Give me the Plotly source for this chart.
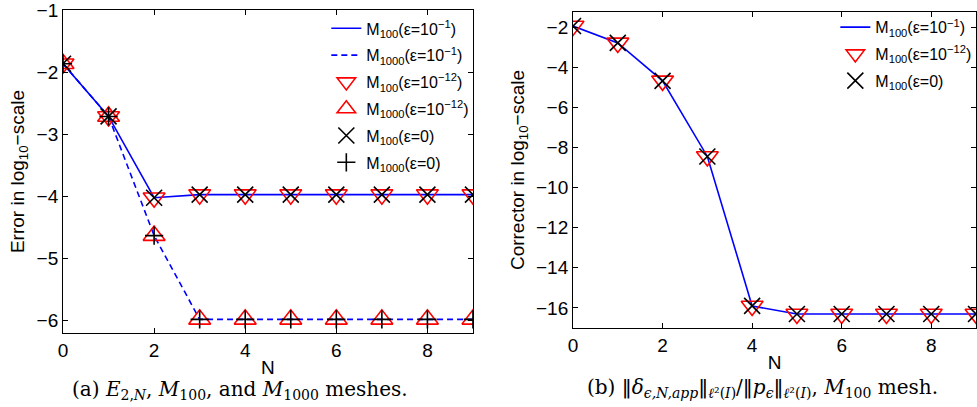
import plotly.graph_objects as go

# ---- data ----
N = [0, 1, 2, 3, 4, 5, 6, 7, 8, 9]
err_m100 = [-1.86, -2.71, -4.02, -3.97, -3.97, -3.97, -3.97, -3.97, -3.97, -3.97]
err_m1000 = [-1.86, -2.71, -4.63, -5.98, -5.98, -5.98, -5.98, -5.98, -5.98, -5.98]
cor_m100 = [-1.95, -2.79, -4.68, -8.45, -15.9, -16.3, -16.3, -16.3, -16.3, -16.3]

left_yticks = [-6, -5, -4, -3, -2, -1]
right_yticks = [-16, -14, -12, -10, -8, -6, -4, -2]
xticks = [0, 2, 4, 6, 8]

BLUE = "rgb(0,0,255)"
RED = "rgb(255,0,0)"
BLACK = "black"
LFONT = dict(family="Liberation Sans", size=16, color="black")

fig = go.Figure()

def add(x, y, name, xa, ya, legend, **kw):
    fig.add_trace(go.Scatter(x=x, y=y, name=name, xaxis=xa, yaxis=ya,
                             legend=legend, legendgroup=name + xa, **kw))

lab100_1 = "M<sub>100</sub>(ε=10<sup>−1</sup>)"
lab1000_1 = "M<sub>1000</sub>(ε=10<sup>−1</sup>)"
lab100_12 = "M<sub>100</sub>(ε=10<sup>−12</sup>)"
lab1000_12 = "M<sub>1000</sub>(ε=10<sup>−12</sup>)"
lab100_0 = "M<sub>100</sub>(ε=0)"
lab1000_0 = "M<sub>1000</sub>(ε=0)"

TRI = dict(size=19, color=RED, line=dict(width=1.6, color=RED))
XM = dict(symbol="x-thin", size=16, color=BLACK, line=dict(width=1.6, color=BLACK))
PM = dict(symbol="cross-thin", size=13, color=BLACK, line=dict(width=1.6, color=BLACK))

# left panel
add(N, err_m100, lab100_1, "x", "y", "legend", mode="lines",
    line=dict(color=BLUE, width=1.6))
add(N, err_m1000, lab1000_1, "x", "y", "legend", mode="lines",
    line=dict(color=BLUE, width=1.6, dash="6px,4px"))
add(N, err_m100, lab100_12, "x", "y", "legend", mode="markers",
    marker=dict(symbol="triangle-down-open", **TRI))
add(N, err_m1000, lab1000_12, "x", "y", "legend", mode="markers",
    marker=dict(symbol="triangle-up-open", **TRI))
add(N, err_m100, lab100_0, "x", "y", "legend", mode="markers", marker=XM)
add(N, err_m1000, lab1000_0, "x", "y", "legend", mode="markers", marker=PM)

# right panel
add(N, cor_m100, lab100_1, "x2", "y2", "legend2", mode="lines",
    line=dict(color=BLUE, width=1.6))
add(N, cor_m100, lab100_12, "x2", "y2", "legend2", mode="markers",
    marker=dict(symbol="triangle-down-open", **TRI))
add(N, cor_m100, lab100_0, "x2", "y2", "legend2", mode="markers", marker=XM)

TICKFONT = dict(family="Liberation Sans", size=19, color="black")
TITLEFONT = dict(family="Liberation Sans", size=19, color="black")

axis_common = dict(showline=True, linecolor="black", linewidth=1, mirror="ticks",
                   ticks="inside", ticklen=5, tickcolor="black", showgrid=False,
                   zeroline=False, tickfont=TICKFONT, automargin=False,
                   ticklabeloverflow="allow")

fig.update_layout(
    width=977, height=407,
    margin=dict(l=0, r=0, t=0, b=0),
    paper_bgcolor="white", plot_bgcolor="white",
    xaxis=dict(domain=[0.0645, 0.4841], range=[0, 9], tickvals=xticks, anchor="y",
               title=dict(text="N", font=TITLEFONT, standoff=0), **axis_common),
    yaxis=dict(domain=[0.1818, 0.9754], range=[-6.2, -0.995], tickvals=left_yticks, anchor="x",
               title=dict(text="Error in log<sub>10</sub>−scale", font=TITLEFONT, standoff=6),
               **axis_common),
    xaxis2=dict(domain=[0.5865, 0.999], range=[0, 9], tickvals=xticks, anchor="y2",
                title=dict(text="N", font=TITLEFONT, standoff=0), **axis_common),
    yaxis2=dict(domain=[0.1941, 0.9705], range=[-17, -1.25], tickvals=right_yticks, anchor="x2",
                title=dict(text="Corrector in log<sub>10</sub>−scale", font=TITLEFONT, standoff=6),
                **axis_common),
    legend=dict(x=0.334, y=0.972, xanchor="left", yanchor="top", bgcolor="rgba(255,255,255,0)",
                font=LFONT, tracegroupgap=3, itemsizing="trace"),
    legend2=dict(x=0.855, y=0.975, xanchor="left", yanchor="top", bgcolor="rgba(255,255,255,0)",
                 font=LFONT, tracegroupgap=3, itemsizing="trace"),
    showlegend=True,
)

CAPFONT = dict(family="DejaVu Serif", size=20, color="black")
BAR = "<span style='font-family:DejaVu Sans'>‖</span>"
fig.add_annotation(
    text="(a) <i>E</i><sub>2,<i>N</i></sub>, <i>M</i><sub>100</sub>, and <i>M</i><sub>1000</sub> meshes.",
    xref="paper", yref="paper", x=240 / 977, y=(407 - 390) / 407, xanchor="center", yanchor="middle",
    showarrow=False, font=CAPFONT)
fig.add_annotation(
    text="(b) " + BAR + "<i>δ</i><sub><i>ϵ,N,app</i></sub>" + BAR + "<sub><i>ℓ</i>²(<i>I</i>)</sub>/"
         + BAR + "<i>p</i><sub><i>ϵ</i></sub>" + BAR + "<sub><i>ℓ</i>²(<i>I</i>)</sub>, <i>M</i><sub>100</sub> mesh.",
    xref="paper", yref="paper", x=762 / 977, y=(407 - 388) / 407, xanchor="center", yanchor="middle",
    showarrow=False, font=CAPFONT)

fig.write_html("out.html")
